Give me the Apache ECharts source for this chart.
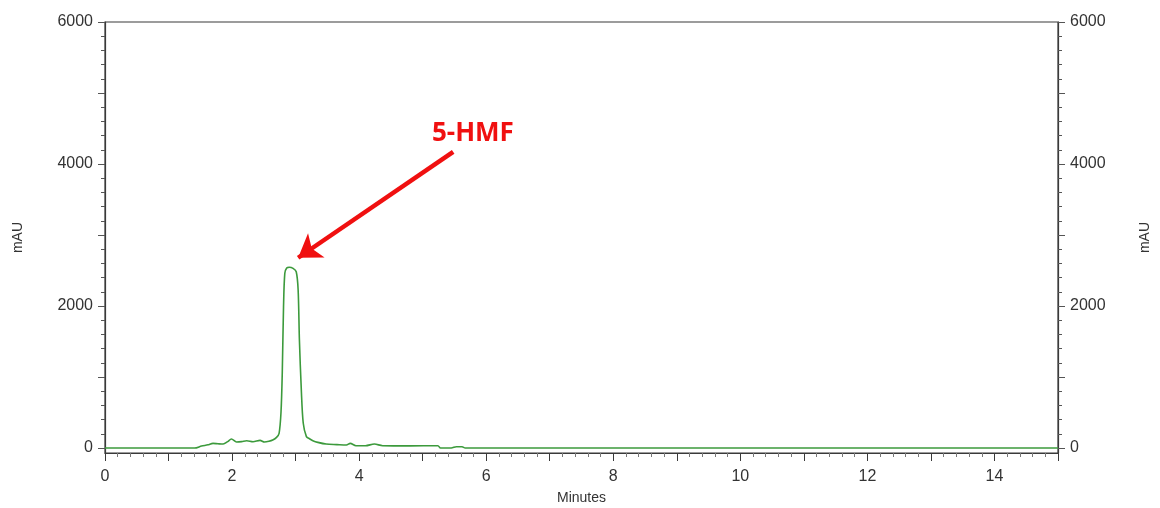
<!DOCTYPE html>
<html>
<head>
<meta charset="utf-8">
<script src="https://cdn.jsdelivr.net/npm/echarts@6/dist/echarts.min.js"></script>
<style>
  html, body { margin: 0; padding: 0; background: #fff; }
  #chart { width: 1160px; height: 508px; }
</style>
</head>
<body>
<div id="chart"></div>
<script>
// Retention time (minutes) and detector response (mAU) of the chromatogram trace
const timeMin = [0, 1.0, 1.41, 1.52, 1.62, 1.70, 1.78, 1.86, 1.93, 1.99, 2.07, 2.15, 2.23, 2.33, 2.44, 2.51, 2.58, 2.64, 2.70, 2.74, 2.77, 2.79, 2.81, 2.83, 2.86, 2.90, 2.96, 3.01, 3.04, 3.06, 3.09, 3.12, 3.17, 3.22, 3.28, 3.35, 3.48, 3.65, 3.80, 3.86, 3.95, 4.10, 4.24, 4.37, 4.80, 5.24, 5.28, 5.45, 5.53, 5.62, 5.67, 8, 10, 12, 15];
const absorbance = [0, 0, 0, 28, 45, 66, 60, 56, 90, 127, 85, 90, 103, 89, 108, 85, 95, 113, 150, 207, 500, 1052, 1990, 2460, 2535, 2545, 2530, 2483, 2225, 1521, 817, 352, 160, 130, 100, 80, 56, 48, 42, 66, 33, 33, 56, 33, 30, 33, 0, 0, 19, 19, 0, 0, 0, 0, 0];

// Axis tick positions and labels
const xRange = [0, 15];
const yRange = [-70, 6000];
const yMajorTicks = [0, 1000, 2000, 3000, 4000, 5000, 6000];
const yLabelTicks = [0, 2000, 4000, 6000];
const yMinorTicks = [200, 400, 600, 800, 1200, 1400, 1600, 1800, 2200, 2400, 2600, 2800,
  3200, 3400, 3600, 3800, 4200, 4400, 4600, 4800, 5200, 5400, 5600, 5800];

// Peak annotation
const peakName = '5-HMF';
const arrowFrom = [5.48, 4170];
const arrowTo = [3.04, 2680];
const labelAt = [5.79, 4240];

const axisColor = '#3a3a3a';
const textColor = '#333';
const font = '"Liberation Sans", Arial, sans-serif';

function yAxisDef(position, withLabels, ticks, tickLen) {
  return {
    type: 'value',
    position: position,
    min: yRange[0],
    max: yRange[1],
    name: withLabels ? 'mAU' : '',
    nameLocation: 'middle',
    nameGap: 80,
    nameRotate: 90,
    nameTextStyle: { color: textColor, fontSize: 14, fontFamily: font },
    axisLine: { show: withLabels, lineStyle: { color: axisColor, width: 1.2 } },
    axisTick: { show: true, customValues: ticks, length: tickLen, inside: false,
      lineStyle: { color: '#555', width: 1 } },
    axisLabel: { show: withLabels, customValues: yLabelTicks, color: textColor,
      fontSize: 16, fontFamily: font, margin: 12, formatter: v => String(v) },
    splitLine: { show: false }
  };
}

const chart = echarts.init(document.getElementById('chart'), null, { renderer: 'canvas' });
chart.setOption({
  animation: false,
  backgroundColor: '#fff',
  grid: {
    left: 105, right: 102, top: 22, bottom: 55,
    outerBoundsMode: 'none',
    containLabel: false,
    show: true, borderColor: axisColor, borderWidth: 1.2, backgroundColor: 'transparent'
  },
  xAxis: {
    type: 'value',
    min: xRange[0],
    max: xRange[1],
    interval: 1,
    name: 'Minutes',
    nameLocation: 'middle',
    nameGap: 38,
    nameTextStyle: { color: textColor, fontSize: 14, fontFamily: font },
    axisLine: { onZero: false, lineStyle: { color: axisColor, width: 1.2 } },
    axisTick: { length: 8, lineStyle: { color: axisColor } },
    minorTick: { show: true, splitNumber: 5, length: 4, lineStyle: { color: '#777' } },
    axisLabel: {
      color: textColor, fontSize: 16, fontFamily: font, margin: 16,
      formatter: v => (v % 2 === 0 && v < 15 ? String(v) : '')
    },
    splitLine: { show: false }
  },
  yAxis: [
    yAxisDef('left', true, yMajorTicks, 7),
    yAxisDef('left', false, yMinorTicks, 4),
    yAxisDef('right', true, yMajorTicks, 7),
    yAxisDef('right', false, yMinorTicks, 4)
  ],
  series: [{
    type: 'line',
    data: timeMin.map((t, i) => [t, absorbance[i]]),
    yAxisIndex: 0,
    showSymbol: false,
    smooth: 0.3,
    lineStyle: { color: '#3c9a3c', width: 1.6 },
    markLine: {
      silent: true,
      symbol: ['none', 'arrow'],
      symbolSize: 22,
      lineStyle: { color: '#f01010', width: 4.5, type: 'solid' },
      itemStyle: { color: '#f01010' },
      label: { show: false },
      data: [[{ coord: arrowFrom }, { coord: arrowTo }]]
    },
    markPoint: {
      silent: true,
      symbol: 'circle',
      symbolSize: 1,
      itemStyle: { color: 'rgba(0,0,0,0)' },
      label: {
        show: true, position: 'top', distance: 0, formatter: peakName,
        overflow: 'none', width: 200, align: 'center',
        color: '#f01010', fontSize: 26, fontWeight: 'bold', fontFamily: '"Open Sans", sans-serif'
      },
      data: [{ coord: labelAt }]
    }
  }]
});
</script>
</body>
</html>
